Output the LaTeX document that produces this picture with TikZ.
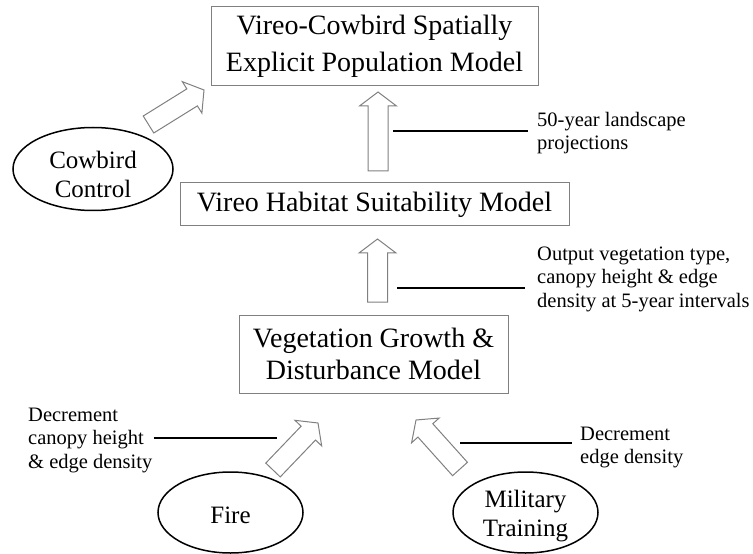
\documentclass[tikz,border=0pt]{standalone}
\usepackage{fontspec}
\setmainfont{Liberation Serif}
\usetikzlibrary{shapes.geometric,calc}
\definecolor{edgegray}{RGB}{128,128,128}
\tikzset{
  modelbox/.style={draw=edgegray, line width=1bp, inner sep=0pt, align=center,
    font=\fontsize{28bp}{32bp}\selectfont},
  oval/.style={draw=black, line width=1.5bp, ellipse, inner sep=0pt},
  ovaltext/.style={inner sep=0pt, align=center, font=\fontsize{25bp}{28.5bp}\selectfont},
  note/.style={inner sep=0pt, align=left, anchor=north west,
    font=\fontsize{20.5bp}{23.5bp}\selectfont},
  lead/.style={draw=black, line width=1.5bp},
  barrow/.style={draw=edgegray, line width=1bp, fill=white, line join=miter},
}
\newcommand\blockarrow[3]{% name, tail, tip
  \coordinate (#1h) at ($(#3)!14bp!(#2)$);
  \draw[barrow] ($(#2)!10bp!90:(#3)$) -- ($(#1h)!10bp!90:(#3)$)
    -- ($(#1h)!18.5bp!90:(#3)$) -- (#3) -- ($(#1h)!18.5bp!-90:(#3)$)
    -- ($(#1h)!10bp!-90:(#3)$) -- ($(#2)!10bp!-90:(#3)$) -- cycle;
}
\begin{document}
\begin{tikzpicture}[x=1bp,y=-1bp]
\path[use as bounding box] (0,0) rectangle (753,554);

% model boxes
\node[modelbox, minimum width=327bp, minimum height=79bp,
  font=\fontsize{28bp}{36.5bp}\selectfont] (pop) at (374.5,46.5)
  {Vireo-Cowbird Spatially\\Explicit Population Model};
\node[modelbox, minimum width=389bp, minimum height=43bp] (hab) at (374.5,204.5)
  {Vireo Habitat Suitability Model};
\node[modelbox, minimum width=269bp, minimum height=78bp] (veg) at (373.5,354)
  {Vegetation Growth \&\\Disturbance Model};

% driver ellipses
\node[oval, minimum width=160bp, minimum height=83bp] (cow) at (93,169) {};
\node[ovaltext] (cowt) at (93,174.3) {Cowbird\\Control};
\node[oval, minimum width=145bp, minimum height=81bp] (fire) at (230.5,512.5) {};
\node[ovaltext] (firet) at (230.5,515.5) {Fire};
\node[oval, minimum width=145bp, minimum height=81bp] (mil) at (525.5,512.5) {};
\node[ovaltext] (milt) at (525.5,516) {Military\\Training};

% block arrows
\coordinate (a1t) at (378,171);   \coordinate (a1e) at (378,92);
\coordinate (a2t) at (377.5,302); \coordinate (a2e) at (377.5,239);
\coordinate (a3t) at (148.5,124.5); \coordinate (a3e) at (204,90);
\coordinate (a4t) at (273,470);   \coordinate (a4e) at (318,423);
\coordinate (a5t) at (460,469);   \coordinate (a5e) at (416,420);
\blockarrow{a1}{a1t}{a1e}
\blockarrow{a2}{a2t}{a2e}
\blockarrow{a3}{a3t}{a3e}
\blockarrow{a4}{a4t}{a4e}
\blockarrow{a5}{a5t}{a5e}

% notes
\node[note] (n1) at (537,112) {50-year landscape\\projections};
\node[note] (n2) at (537,246.7) {Output vegetation type,\\canopy height \& edge\\density at 5-year intervals};
\node[note] (n3) at (28,407.4) {Decrement\\canopy height\\\& edge density};
\node[note] (n4) at (580,426.4) {Decrement\\edge density};

% leader lines
\coordinate (l1) at (393,131);
\draw[lead] (l1) -- ([xshift=-9bp]l1 -| n1.west);
\coordinate (l2) at (397,288);
\draw[lead] (l2) -- ([xshift=-12bp]l2 -| n2.west);
\coordinate (l3) at (277,438);
\draw[lead] ([xshift=1bp]l3 -| n3.east) -- (l3);
\coordinate (l4) at (460,443);
\draw[lead] (l4) -- ([xshift=-8bp]l4 -| n4.west);
\end{tikzpicture}
\end{document}
